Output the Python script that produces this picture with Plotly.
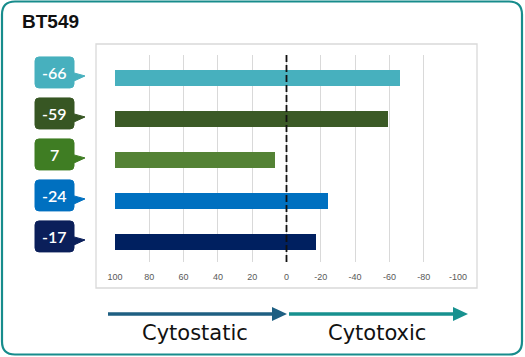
import plotly.graph_objects as go

# ---- data ----
labels = ["-66", "-59", "7", "-24", "-17"]
values = [-66, -59, 7, -24, -17]
bar_colors = ["#47B0BE", "#3B5A26", "#548235", "#0070C0", "#002060"]
callout_colors = ["#47B0BE", "#375623", "#3F7D23", "#0070C0", "#0B1F5A"]
x_ticks = [100, 80, 60, 40, 20, 0, -20, -40, -60, -80, -100]
x_tick_text = ["100", "80", "60", "40", "20", "0", "-20", "-40", "-60", "-80", "-100"]
title = "BT549"
left_label = "Cytostatic"
right_label = "Cytotoxic"
base_value = 100

W, H = 525, 357
positions = list(range(len(values)))

px_left, px_right = 115, 458
px_top, px_bot = 55, 262
y_range = [4.49, -0.56]
ppu = (px_bot - px_top) / (y_range[0] - y_range[1])

def px(x):
    return x / W

def py(y):
    return 1 - y / H

fig = go.Figure()
fig.add_trace(go.Bar(
    y=positions,
    x=[v - base_value for v in values],
    base=base_value,
    orientation="h",
    marker=dict(color=bar_colors, line=dict(width=0)),
    width=16 / ppu,
    hoverinfo="skip",
))

shapes = []
def rrect(x0, y0, x1, y1, r):
    return (f"M {px(x0+r)},{py(y0)} L {px(x1-r)},{py(y0)} Q {px(x1)},{py(y0)} {px(x1)},{py(y0+r)} "
            f"L {px(x1)},{py(y1-r)} Q {px(x1)},{py(y1)} {px(x1-r)},{py(y1)} "
            f"L {px(x0+r)},{py(y1)} Q {px(x0)},{py(y1)} {px(x0)},{py(y1-r)} "
            f"L {px(x0)},{py(y0+r)} Q {px(x0)},{py(y0)} {px(x0+r)},{py(y0)} Z")

shapes.append(dict(type="path", xref="paper", yref="paper", path=rrect(2, 1.5, 522, 354.5, 13),
                   line=dict(color="#178C8C", width=2.2), fillcolor="rgba(0,0,0,0)", layer="below"))
shapes.append(dict(type="rect", xref="paper", yref="paper", x0=px(96), x1=px(477), y0=py(44), y1=py(288),
                   line=dict(color="#D9D9D9", width=1.3), fillcolor="rgba(0,0,0,0)", layer="below"))
shapes.append(dict(type="line", xref="x", yref="paper", x0=0, x1=0, y0=py(px_bot), y1=py(px_top),
                   line=dict(color="#111111", width=1.8, dash="7px,3px")))

annotations = []
for i, (lab, col) in enumerate(zip(labels, callout_colors)):
    cy = i
    d = lambda p: cy + p / ppu
    x0, x1, r = 35, 74, 4
    t, b = -21, 10
    path = (f"M {px(x0+r)},{d(t)} L {px(x1-r)},{d(t)} Q {px(x1)},{d(t)} {px(x1)},{d(t+r)} "
            f"L {px(x1)},{d(-5)} L {px(85)},{d(-2)} L {px(x1)},{d(3)} "
            f"L {px(x1)},{d(b-r)} Q {px(x1)},{d(b)} {px(x1-r)},{d(b)} "
            f"L {px(x0+r)},{d(b)} Q {px(x0)},{d(b)} {px(x0)},{d(b-r)} "
            f"L {px(x0)},{d(t+r)} Q {px(x0)},{d(t)} {px(x0+r)},{d(t)} Z")
    shapes.append(dict(type="path", xref="paper", yref="y", path=path,
                       line=dict(color=col, width=1), fillcolor=col, layer="above"))
    annotations.append(dict(xref="paper", yref="y", x=px((x0 + x1) / 2), y=d(-5.5), text=lab,
                            showarrow=False, xanchor="center", yanchor="middle",
                            font=dict(family="Lato, Noto Sans, sans-serif", size=16, color="white", weight=600)))

ay = 314
shapes.append(dict(type="line", xref="paper", yref="paper", x0=px(108), x1=px(274), y0=py(ay), y1=py(ay),
                   line=dict(color="#1E5F82", width=3.5)))
shapes.append(dict(type="path", xref="paper", yref="paper",
                   path=f"M {px(272)},{py(ay-7)} L {px(287)},{py(ay)} L {px(272)},{py(ay+7)} Z",
                   line=dict(color="#1E5F82", width=0), fillcolor="#1E5F82"))
shapes.append(dict(type="line", xref="paper", yref="paper", x0=px(289), x1=px(455), y0=py(ay), y1=py(ay),
                   line=dict(color="#17918F", width=3.5)))
shapes.append(dict(type="path", xref="paper", yref="paper",
                   path=f"M {px(453)},{py(ay-7)} L {px(468)},{py(ay)} L {px(453)},{py(ay+7)} Z",
                   line=dict(color="#17918F", width=0), fillcolor="#17918F"))

label_font = dict(family="DejaVu Sans, Noto Sans, sans-serif", size=21, color="#111111")
annotations.append(dict(xref="paper", yref="paper", x=px(195), y=py(333), text=left_label, showarrow=False,
                        xanchor="center", yanchor="middle", font=label_font))
annotations.append(dict(xref="paper", yref="paper", x=px(377), y=py(333), text=right_label, showarrow=False,
                        xanchor="center", yanchor="middle", font=label_font))
annotations.append(dict(xref="paper", yref="paper", x=px(20), y=py(21.5), text=f"<b>{title}</b>", showarrow=False,
                        xanchor="left", yanchor="middle",
                        font=dict(family="Liberation Sans, Arial, sans-serif", size=19, color="#111111")))

fig.update_layout(
    width=W, height=H, autosize=False,
    margin=dict(l=0, r=0, t=0, b=0, autoexpand=False),
    paper_bgcolor="white", plot_bgcolor="white",
    showlegend=False,
    shapes=shapes,
    annotations=annotations,
    xaxis=dict(domain=[px(px_left), px(px_right)], range=[100, -100], tickvals=x_ticks, ticktext=x_tick_text,
               showgrid=True, gridcolor="#D9D9D9", gridwidth=1.3, zeroline=False, showline=False,
               ticks="outside", ticklen=6, tickcolor="rgba(0,0,0,0)", automargin=False,
               tickfont=dict(family="Liberation Sans, Arial, sans-serif", size=9, color="#595959"),
               fixedrange=True),
    yaxis=dict(domain=[py(px_bot), py(px_top)], range=y_range, showgrid=False, zeroline=False,
               showticklabels=False, showline=False, fixedrange=True, automargin=False),
    bargap=0,
)

fig.write_html("out.html", config={"displayModeBar": False, "responsive": False},
               post_script="document.body.style.margin='0';document.body.style.overflow='hidden';")
